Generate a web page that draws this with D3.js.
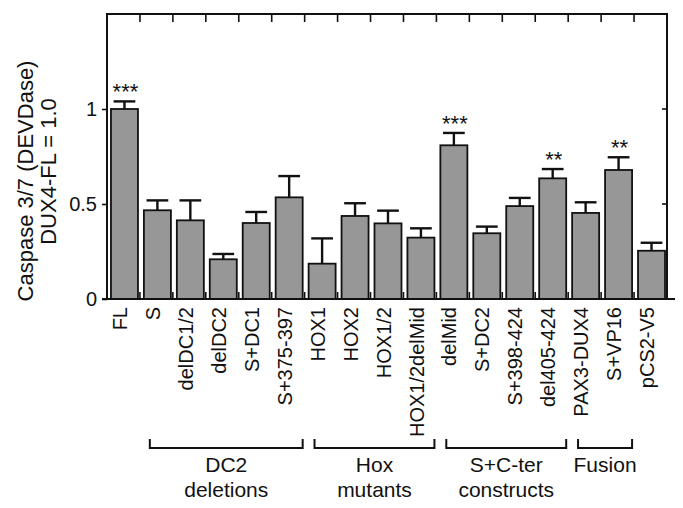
<!DOCTYPE html>
<html>
<head>
<meta charset="utf-8">
<script src="https://cdn.jsdelivr.net/npm/d3@7"></script>
<style>
  html, body { margin: 0; padding: 0; background: #fff; }
  svg { display: block; font-family: "Liberation Sans", Arial, sans-serif; }
</style>
</head>
<body>
<svg id="chart" width="683" height="508"></svg>
<script>
const categories = ["FL","S","delDC1/2","delDC2","S+DC1","S+375-397","HOX1","HOX2","HOX1/2","HOX1/2delMid","delMid","S+DC2","S+398-424","del405-424","PAX3-DUX4","S+VP16","pCS2-V5"];
const values = [1.0, 0.467, 0.414, 0.209, 0.40, 0.535, 0.186, 0.437, 0.398, 0.323, 0.809, 0.346, 0.489, 0.635, 0.453, 0.679, 0.254];
const errors = [0.04, 0.052, 0.105, 0.028, 0.058, 0.112, 0.133, 0.067, 0.067, 0.049, 0.065, 0.035, 0.043, 0.049, 0.056, 0.067, 0.042];
const stars = ["***","","","","","","","","","","***","","","**","","**",""];
const yTicks = [0, 0.5, 1];
const yTickLabels = ["0", "0.5", "1"];
const yTitle = ["Caspase 3/7 (DEVDase)", "DUX4-FL = 1.0"];
const groupNames = [["DC2","deletions"],["Hox","mutants"],["S+C-ter","constructs"],["Fusion"]];
const groupFrom = [1, 6, 10, 14];
const groupTo = [5, 9, 13, 15];

const pL = 107, pR = 667, pT = 14, pB = 299;
const svg = d3.select("#chart");
const n = categories.length;

const x = d3.scaleBand().domain(categories).range([pL, pR]).padding(0);
const slot = d3.scaleLinear().domain([0, n]).range([pL, pR]);
const y = d3.scaleLinear().domain([0, 1.5]).range([pB, pT]);
const bw = x.bandwidth();
const barX = c => x(c) + bw * 0.12;
const barW = bw * 0.82;
const cx = c => barX(c) + barW / 2;

const data = categories.map((c, i) => ({c, v: values[i], e: errors[i], s: stars[i]}));

// bars
svg.append("g").selectAll("rect").data(data).join("rect")
  .attr("x", d => barX(d.c)).attr("y", d => y(d.v))
  .attr("width", barW).attr("height", d => y(0) - y(d.v))
  .attr("fill", "#979797").attr("stroke", "#111").attr("stroke-width", 1.8);

// error bars
const eg = svg.append("g").attr("stroke", "#111").attr("stroke-width", 2.4);
eg.selectAll("line.stem").data(data).join("line").attr("class","stem")
  .attr("x1", d => cx(d.c)).attr("x2", d => cx(d.c))
  .attr("y1", d => y(d.v)).attr("y2", d => y(d.v + d.e));
eg.selectAll("line.cap").data(data).join("line").attr("class","cap")
  .attr("x1", d => cx(d.c) - bw * 0.33).attr("x2", d => cx(d.c) + bw * 0.33)
  .attr("y1", d => y(d.v + d.e)).attr("y2", d => y(d.v + d.e));

// stars
svg.append("g").selectAll("text").data(data.filter(d => d.s)).join("text")
  .attr("x", d => cx(d.c) + 1).attr("y", d => y(d.v + d.e) - 2)
  .attr("text-anchor", "middle").attr("font-size", 22).attr("fill", "#111")
  .text(d => d.s);

// frame
const fr = svg.append("g").attr("stroke", "#111").attr("stroke-width", 2).attr("fill", "none");
fr.append("path").attr("d", `M${pL},${pB}V${pT}H${pR}V${pB}`);
fr.append("line").attr("x1", pL - 5).attr("x2", pR + 8).attr("y1", pB).attr("y2", pB);

// top & bottom boundary ticks
const bounds = d3.range(1, n);
const tk = svg.append("g").attr("stroke", "#111").attr("stroke-width", 1.6);
tk.selectAll("line.t").data(bounds).join("line").attr("class","t")
  .attr("x1", k => slot(k)).attr("x2", k => slot(k)).attr("y1", pT).attr("y2", pT + 8);
tk.selectAll("line.b").data(bounds).join("line").attr("class","b")
  .attr("x1", k => slot(k)).attr("x2", k => slot(k)).attr("y1", pB).attr("y2", pB - 7);
tk.selectAll("line.r").data(yTicks.filter(v => v > 0)).join("line").attr("class","r")
  .attr("x1", pR).attr("x2", pR - 5).attr("y1", v => y(v)).attr("y2", v => y(v));

// left axis
const yAxis = d3.axisLeft(y).tickValues(yTicks).tickSize(5).tickPadding(5)
  .tickFormat((v, i) => yTickLabels[i]);
const ya = svg.append("g").attr("transform", `translate(${pL},0)`).call(yAxis);
ya.select(".domain").remove();
ya.selectAll(".tick line").attr("stroke", "#111").attr("stroke-width", 1.6);
ya.selectAll(".tick text").attr("font-size", 20).attr("fill", "#111")
  .attr("font-family", "Liberation Sans, Arial, sans-serif");

// x labels
svg.append("g").selectAll("text").data(categories).join("text")
  .attr("transform", c => `translate(${x(c) + bw / 2},307) rotate(-90)`)
  .attr("text-anchor", "end").attr("dy", "0.18em")
  .attr("font-size", 20).attr("fill", "#111").text(c => c);

// y title
svg.append("text").attr("transform", "translate(25,181) rotate(-90)")
  .attr("text-anchor", "middle").attr("dy", "0.35em").attr("font-size", 22).attr("fill", "#111").text(yTitle[0]);
svg.append("text").attr("transform", "translate(48,171.5) rotate(-90)")
  .attr("text-anchor", "middle").attr("dy", "0.35em").attr("font-size", 22).attr("fill", "#111").text(yTitle[1]);

// group brackets
const gg = svg.append("g");
groupNames.forEach((lines, i) => {
  const x0 = slot(groupFrom[i] + 0.3), x1 = slot(groupTo[i] + 1 - 0.06);
  gg.append("path").attr("d", `M${x0},439V448H${x1}V439`)
    .attr("fill", "none").attr("stroke", "#111").attr("stroke-width", 2);
  lines.forEach((t, j) => {
    gg.append("text").attr("x", (x0 + x1) / 2).attr("y", 472 + j * 25)
      .attr("text-anchor", "middle").attr("font-size", 21).attr("fill", "#111").text(t);
  });
});
</script>
</body>
</html>
